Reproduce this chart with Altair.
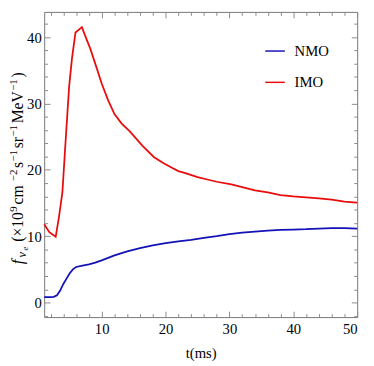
import altair as alt
import pandas as pd

# NMO (blue) series
t_nmo = [1, 2, 2.5, 3, 3.5, 4, 4.5, 5, 5.5, 6, 7, 8, 9, 10, 12, 14, 16, 18, 20, 22, 24,
         26, 28, 30, 32, 34, 36, 38, 40, 42, 44, 46, 48, 50]
f_nmo = [0.8, 0.8, 0.85, 1.1, 1.8, 2.8, 3.6, 4.4, 5.0, 5.35, 5.55, 5.75, 6.0, 6.35, 7.1, 7.7,
         8.2, 8.6, 8.95, 9.2, 9.45, 9.75, 10.0, 10.3, 10.55, 10.7, 10.85, 10.95, 11.0, 11.05,
         11.15, 11.2, 11.2, 11.15]

# IMO (red) series
t_imo = [1, 1.8, 2.8, 3.3, 3.85, 4.35, 4.9, 5.35, 5.9, 6.9, 7.5, 8.2, 9.2, 10, 11, 12, 13.1,
         14.4, 16.4, 18.2, 19.7, 21, 22, 23.1, 25, 26.7, 28, 30.3, 32, 34, 36, 38, 40, 42, 44,
         46, 48, 50]
f_imo = [11.8, 10.6, 9.9, 12.8, 16.6, 24.3, 32.5, 36.8, 40.7, 41.5, 40.0, 38.3, 35.4, 33.0,
         30.5, 28.4, 27.0, 25.8, 23.6, 21.9, 21.0, 20.3, 19.8, 19.5, 18.9, 18.5, 18.2, 17.8,
         17.4, 16.9, 16.6, 16.2, 16.0, 15.85, 15.7, 15.5, 15.2, 15.05]

series = ["NMO", "IMO"]
colors = ["#1212b8", "#e80c0c"]

x_major = [10, 20, 30, 40, 50]
x_minor = [2, 4, 6, 8, 12, 14, 16, 18, 22, 24, 26, 28, 32, 34, 36, 38, 42, 44, 46, 48]
y_major = [0, 10, 20, 30, 40]
y_minor = [-2, 2, 4, 6, 8, 12, 14, 16, 18, 22, 24, 26, 28, 32, 34, 36, 38, 42]

x_domain = [1, 50]
y_domain = [-2.2, 43.8]

x_title = "t(ms)"
# y title: (text, is_superscript)
y_title_pieces = [("(×10", False), ("9", True), (" cm", False), ("−2", True), ("s", False),
                  ("−1", True), ("sr", False), ("−1", True), ("MeV", False), ("−1", True),
                  (")", False)]

df = pd.concat([
    pd.DataFrame({"t": t_nmo, "f": f_nmo, "s": "NMO"}),
    pd.DataFrame({"t": t_imo, "f": f_imo, "s": "IMO"}),
], ignore_index=True)

FONT = "Liberation Serif"
TICK = "#8a8a8a"

xs = alt.Scale(domain=x_domain, nice=False, zero=False)
ys = alt.Scale(domain=y_domain, nice=False, zero=False)


def ax(orient, values, size, labels, title=None):
    kw = dict(orient=orient, values=values, tickSize=size, offset=-size, domain=False,
              grid=False, labels=labels, tickColor=TICK, tickWidth=1,
              labelFont=FONT, labelFontSize=15, labelColor="black")
    kw["labelPadding"] = 5 if orient in ("bottom", "top") else 3
    if title:
        kw.update(title=title, titleFont=FONT, titleFontSize=15, titleFontWeight="normal",
                  titleColor="black", titlePadding=9)
    else:
        kw["title"] = None
    return alt.Axis(**kw)


base = alt.Chart(df)

lines = base.mark_line(strokeWidth=1.8).encode(
    x=alt.X("t:Q", scale=xs, axis=ax("bottom", x_major, 6, True, x_title)),
    y=alt.Y("f:Q", scale=ys, axis=ax("left", y_major, 6, True)),
    color=alt.Color("s:N", scale=alt.Scale(domain=series, range=colors),
                    legend=alt.Legend(orient="none", legendX=225, legendY=29, title=None,
                                      symbolType="stroke", symbolSize=400,
                                      symbolStrokeWidth=1.5, labelFont=FONT,
                                      labelFontSize=15, labelColor="black",
                                      labelOffset=9, rowPadding=13, padding=0)),
    detail="s:N",
)

l2 = base.mark_line(opacity=0).encode(
    x=alt.X("t:Q", scale=xs, axis=ax("bottom", x_minor, 3.5, False)),
    y=alt.Y("f:Q", scale=ys, axis=ax("left", y_minor, 3.5, False)),
    detail="s:N",
)
l3 = base.mark_line(opacity=0).encode(
    x=alt.X("t:Q", scale=xs, axis=ax("top", x_major, 6, False)),
    y=alt.Y("f:Q", scale=ys, axis=ax("right", y_major, 6, False)),
    detail="s:N",
)
l4 = base.mark_line(opacity=0).encode(
    x=alt.X("t:Q", scale=xs, axis=ax("top", x_minor, 3.5, False)),
    y=alt.Y("f:Q", scale=ys, axis=ax("right", y_minor, 3.5, False)),
    detail="s:N",
)

# ---- rotated y-axis title built from text pieces ----
PL, PT = 45, 8  # page offset of plot origin


def ttl(txt, px, py, size, style="normal"):
    return alt.Chart(pd.DataFrame({"txt": [txt]})).mark_text(
        angle=270, align="left", baseline="alphabetic", font=FONT, fontSize=size,
        fontStyle=style, color="black"
    ).encode(x=alt.value(px - PL), y=alt.value(py - PT), text="txt:N")


# approximate Times-like advance widths (em) for sequential placement
ADV = {"(": 0.333, ")": 0.333, "×": 0.564, "1": 0.5, "0": 0.5, "9": 0.5, "2": 0.5,
       " ": 0.25, "c": 0.444, "m": 0.778, "s": 0.389, "r": 0.333, "M": 0.889,
       "e": 0.444, "V": 0.722, "−": 0.564}

MAIN, SUP = 16, 11
BASE_X = 23
title_layers = [
    ttl("f", BASE_X, 266, 17, "italic"),
    ttl("ν", BASE_X + 3, 259, 12.5, "italic"),
    ttl("e", BASE_X + 5, 252, 9, "italic"),
]
ypos = 243.0
for txt, sup in y_title_pieces:
    size = SUP if sup else MAIN
    bx = BASE_X - 6 if sup else BASE_X
    title_layers.append(ttl(txt, bx, ypos, size))
    ypos -= sum(ADV.get(ch, 0.5) for ch in txt) * size + (1.8 if sup else 0.4)

chart = alt.layer(lines, l2, l3, l4, *title_layers).resolve_axis(
    x="independent", y="independent"
).properties(
    width=320, height=312,
    padding={"left": 37, "top": 0, "right": 9, "bottom": 46},
    autosize=alt.AutoSizeParams(type="none"),
).configure_view(stroke="#777777", strokeWidth=1)

chart.save("out.html", embed_options={"renderer": "svg", "actions": False})
